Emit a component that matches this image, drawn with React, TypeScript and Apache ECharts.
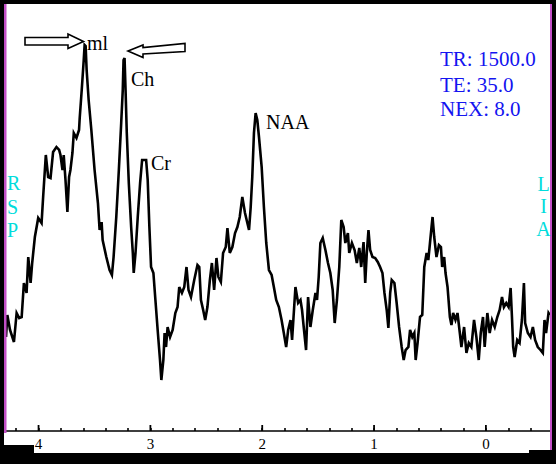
import React, { useEffect, useRef } from "react";
import * as echarts from "echarts";

// Chemical shift (ppm) of each traced point
const ppm = [
  4.291, 4.279, 4.255, 4.220, 4.196, 4.173, 4.151, 4.131, 4.107, 4.092,
  4.071, 4.057, 4.033, 4.003, 3.973, 3.959, 3.935, 3.914, 3.893, 3.870,
  3.840, 3.816, 3.804, 3.786, 3.775, 3.759, 3.742, 3.727, 3.715, 3.697,
  3.685, 3.661, 3.638, 3.632, 3.614, 3.596, 3.588, 3.579, 3.570, 3.552,
  3.528, 3.499, 3.469, 3.454, 3.436, 3.427, 3.394, 3.365, 3.344, 3.329,
  3.305, 3.282, 3.261, 3.247, 3.240, 3.231, 3.222, 3.211, 3.193, 3.172,
  3.157, 3.149, 3.133, 3.113, 3.092, 3.074, 3.038, 3.024, 3.009, 2.994,
  2.973, 2.955, 2.935, 2.914, 2.902, 2.884, 2.873, 2.860, 2.846, 2.824,
  2.801, 2.777, 2.757, 2.742, 2.718, 2.697, 2.677, 2.659, 2.637, 2.608,
  2.579, 2.563, 2.548, 2.528, 2.510, 2.490, 2.468, 2.450, 2.430, 2.409,
  2.392, 2.370, 2.350, 2.326, 2.311, 2.290, 2.267, 2.243, 2.222, 2.201,
  2.178, 2.154, 2.133, 2.118, 2.103, 2.089, 2.074, 2.059, 2.044, 2.029,
  2.005, 1.985, 1.964, 1.940, 1.916, 1.896, 1.875, 1.851, 1.827, 1.807,
  1.786, 1.768, 1.747, 1.733, 1.703, 1.679, 1.658, 1.644, 1.629, 1.608,
  1.590, 1.569, 1.548, 1.524, 1.510, 1.495, 1.480, 1.459, 1.435, 1.412,
  1.391, 1.370, 1.352, 1.332, 1.311, 1.293, 1.272, 1.257, 1.234, 1.222,
  1.198, 1.174, 1.154, 1.132, 1.115, 1.094, 1.079, 1.065, 1.050, 1.035,
  1.014, 0.990, 0.967, 0.946, 0.925, 0.907, 0.887, 0.872, 0.856, 0.842,
  0.818, 0.798, 0.776, 0.753, 0.735, 0.718, 0.693, 0.678, 0.658, 0.640,
  0.628, 0.611, 0.589, 0.569, 0.551, 0.530, 0.515, 0.500, 0.486, 0.477,
  0.462, 0.442, 0.420, 0.402, 0.391, 0.373, 0.361, 0.343, 0.322, 0.308,
  0.293, 0.272, 0.254, 0.233, 0.219, 0.195, 0.174, 0.153, 0.130, 0.106,
  0.085, 0.064, 0.046, 0.026, 0.011, -0.013, -0.034, -0.055, -0.079, -0.102,
  -0.123, -0.144, -0.161, -0.182, -0.203, -0.221, -0.233, -0.244, -0.257, -0.280,
  -0.301, -0.322, -0.340, -0.351, -0.375, -0.399, -0.420, -0.440, -0.464, -0.488,
  -0.509, -0.524, -0.538, -0.560, -0.571,
];

// Signal intensity (arbitrary units) of each traced point
const intensity = [
  94, 116, 101, 89, 118, 113, 114, 148, 138, 174,
  148, 168, 194, 213, 208, 234, 276, 254, 253, 279,
  284, 281, 276, 261, 276, 251, 219, 254, 261, 278,
  298, 293, 301, 313, 341, 371, 386, 385, 361, 331,
  301, 261, 228, 201, 209, 191, 174, 161, 156, 174,
  214, 261, 308, 341, 371, 373, 341, 298, 248, 204,
  178, 158, 178, 214, 248, 271, 271, 251, 204, 164,
  158, 131, 101, 71, 51, 71, 98, 84, 104, 94,
  101, 118, 124, 144, 138, 144, 164, 141, 134, 151,
  166, 164, 131, 121, 111, 124, 151, 168, 141, 173,
  154, 149, 178, 184, 203, 178, 184, 198, 204, 214,
  234, 218, 208, 201, 224, 254, 298, 318, 311, 294,
  264, 224, 188, 161, 156, 144, 131, 124, 111, 98,
  84, 101, 111, 91, 144, 128, 131, 121, 104, 81,
  134, 104, 121, 138, 131, 154, 188, 193, 181, 168,
  158, 141, 108, 131, 164, 211, 204, 188, 198, 178,
  188, 181, 168, 183, 164, 189, 148, 178, 201, 181,
  174, 173, 169, 164, 158, 138, 121, 103, 138, 151,
  148, 128, 104, 84, 71, 81, 84, 101, 94, 98,
  71, 88, 114, 116, 164, 178, 171, 188, 204, 214,
  194, 174, 186, 184, 164, 174, 158, 144, 114, 106,
  118, 111, 118, 98, 84, 104, 78, 88, 84, 111,
  94, 71, 98, 114, 84, 118, 98, 111, 104, 114,
  121, 134, 124, 128, 124, 143, 114, 84, 74, 91,
  88, 111, 148, 108, 98, 94, 104, 91, 84, 81,
  78, 111, 98, 118, 116,
];

// Major tick positions (ppm) and their labels
const majorTicks = [4, 3, 2, 1, 0];
const majorTickLabels = ["4", "3", "2", "1", "0"];

// Text annotations
const peakLabels = ["ml", "Ch", "Cr", "NAA"];
const paramLines = ["TR: 1500.0", "TE: 35.0", "NEX: 8.0"];
const leftSideLetters = ["R", "S", "P"];
const rightSideLetters = ["L", "I", "A"];

const SERIF = "'Liberation Serif', 'Times New Roman', serif";

export default function App() {
  const ref = useRef<HTMLDivElement>(null);

  useEffect(() => {
    if (!ref.current) return;
    const chart = echarts.init(ref.current, null, { renderer: "svg" });

    const lineData = ppm.map((p, i) => [p, intensity[i]]);
    const majorData = majorTicks.map((t) => [t, 0]);

    const txt = (text: string, x: number, y: number, size: number, fill: string, align = "left") => ({
      type: "text",
      x,
      y,
      z: 120,
      style: {
        text,
        fill,
        font: `${size}px ${SERIF}`,
        textAlign: align,
        textVerticalAlign: "top",
      },
    });

    const frameColor = "#000000";
    const purple = "#c24fc6";
    const cyan = "#00dcdc";
    const blue = "#1414f0";

    const graphic: any[] = [
      // black outer frame
      { type: "rect", z: 110, shape: { x: 0, y: 0, width: 556, height: 4 }, style: { fill: frameColor } },
      { type: "rect", z: 110, shape: { x: 0, y: 0, width: 4, height: 464 }, style: { fill: frameColor } },
      { type: "rect", z: 110, shape: { x: 552, y: 0, width: 4, height: 464 }, style: { fill: frameColor } },
      { type: "rect", z: 110, shape: { x: 0, y: 453, width: 556, height: 11 }, style: { fill: frameColor } },
      { type: "rect", z: 110, shape: { x: 0, y: 445, width: 34, height: 19 }, style: { fill: frameColor } },
      { type: "rect", z: 110, shape: { x: 529, y: 450, width: 27, height: 14 }, style: { fill: frameColor } },
      // purple inner edges
      { type: "rect", z: 111, shape: { x: 4, y: 4, width: 2.5, height: 429 }, style: { fill: purple } },
      { type: "rect", z: 111, shape: { x: 550, y: 4, width: 2, height: 446 }, style: { fill: purple } },
      // arrows
      {
        type: "polygon",
        z: 115,
        shape: { points: [[25, 37.5], [68, 37.5], [68, 34], [83.5, 41.5], [68, 48.5], [68, 45], [25, 45]] },
        style: { fill: "#ffffff", stroke: "#000000", lineWidth: 1.6 },
      },
      {
        type: "polygon",
        z: 115,
        shape: { points: [[128, 51], [143, 45], [143, 47.5], [185, 43.5], [185, 51.5], [143, 54], [143, 57.5]] },
        style: { fill: "#ffffff", stroke: "#000000", lineWidth: 1.6 },
      },
      // peak labels
      txt(peakLabels[0], 87, 33, 20, "#000"),
      txt(peakLabels[1], 131, 68.5, 20, "#000"),
      txt(peakLabels[2], 151, 152.5, 20, "#000"),
      txt(peakLabels[3], 266, 112, 20, "#000"),
      // acquisition parameters
      txt(paramLines[0], 440, 48.5, 21, blue),
      txt(paramLines[1], 440, 74.5, 21, blue),
      txt(paramLines[2], 440, 98.5, 21, blue),
      // orientation letters
      txt(leftSideLetters[0], 7, 172.5, 20, cyan),
      txt(leftSideLetters[1], 7, 197, 20, cyan),
      txt(leftSideLetters[2], 7, 220, 20, cyan),
      txt(rightSideLetters[0], 543.5, 173.5, 20, cyan, "center"),
      txt(rightSideLetters[1], 543.5, 195.5, 20, cyan, "center"),
      txt(rightSideLetters[2], 543.5, 218.5, 20, cyan, "center"),
    ];

    chart.setOption({
      animation: false,
      backgroundColor: "#ffffff",
      grid: { left: 5, right: 1, top: 10, bottom: 33, containLabel: false },
      xAxis: {
        type: "value",
        inverse: true,
        min: -0.6,
        max: 4.3,
        interval: 0.2,
        axisLine: { show: true, lineStyle: { color: "#000", width: 1.6 } },
        axisTick: { show: true, inside: true, length: 3, lineStyle: { color: "#000", width: 1.6 } },
        splitLine: { show: false },
        axisLabel: {
          show: true,
          margin: 5,
          color: "#000",
          fontFamily: SERIF,
          fontSize: 15,
          formatter: (v: number) => {
            const idx = majorTicks.findIndex((t) => Math.abs(t - v) < 1e-6);
            return idx >= 0 ? majorTickLabels[idx] : "";
          },
        },
      },
      yAxis: {
        type: "value",
        min: 0,
        max: 421,
        show: false,
        splitLine: { show: false },
      },
      series: [
        {
          type: "line",
          data: lineData,
          showSymbol: false,
          symbol: "none",
          lineStyle: { color: "#000", width: 2.6, join: "miter" },
          z: 5,
        },
        {
          type: "custom",
          data: majorData,
          z: 6,
          renderItem: (params: any, api: any) => {
            const p = api.coord([api.value(0), 0]);
            return {
              type: "line",
              shape: { x1: p[0], y1: p[1], x2: p[0], y2: p[1] - 6 },
              style: { stroke: "#000", lineWidth: 1.8 },
            };
          },
        },
      ],
      graphic,
    });

    return () => {
      chart.dispose();
    };
  }, []);

  return (
    <div
      ref={ref}
      style={{ position: "fixed", left: 0, top: 0, width: 556, height: 464, background: "#fff" }}
    />
  );
}
